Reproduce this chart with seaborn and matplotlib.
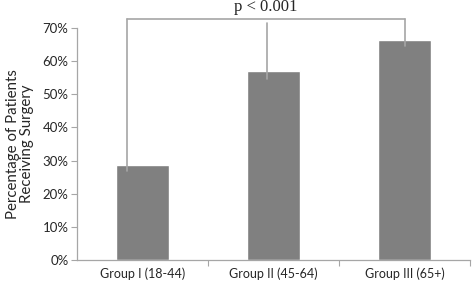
import seaborn as sns
import matplotlib.pyplot as plt
import matplotlib.ticker as mtick
import pandas as pd

groups = ["Group I (18-44)", "Group II (45-64)", "Group III (65+)"]
pct_surgery = [0.287, 0.570, 0.664]
p_text = "p < 0.001"

df = pd.DataFrame({"group": groups, "pct": pct_surgery})

sns.set_style("white")
plt.rcParams["font.family"] = ["Lato", "DejaVu Sans"]

fig = plt.figure(figsize=(4.72, 2.82), dpi=100)
ax = fig.add_axes([0.163, 0.078, 0.833, 0.823])

sns.barplot(data=df, x="group", y="pct", color="#808080", saturation=1,
            width=0.41, errorbar=None, ax=ax)

ax.set_ylim(0, 0.7)
ax.set_xlim(-0.5, 2.5)
ax.yaxis.set_major_locator(mtick.MultipleLocator(0.1))
ax.yaxis.set_major_formatter(mtick.PercentFormatter(1.0, decimals=0))
ax.set_xlabel("")
ax.set_ylabel("Percentage of Patients\nReceiving Surgery", fontsize=10.8,
              labelpad=6, linespacing=1.05)

# tick styling
ax.tick_params(axis="y", which="major", left=True, length=4, width=0.8,
               color="#a6a6a6", labelsize=9.5, pad=2)
ax.tick_params(axis="x", which="major", bottom=False, labelsize=9, pad=2)
ax.set_xticks([0.5, 1.5, 2.5], minor=True)
ax.tick_params(axis="x", which="minor", bottom=True, length=4, width=0.8,
               color="#a6a6a6")

sns.despine(ax=ax)
for side in ["left", "bottom"]:
    ax.spines[side].set_color("#a6a6a6")
    ax.spines[side].set_linewidth(0.9)

# significance bracket
line_kw = dict(color="#a6a6a6", lw=1.2, clip_on=False, zorder=3)
br_y = 0.726
x1, x2, x3 = -0.12, 0.95, 2.0
ax.plot([x1, x3], [br_y, br_y], **line_kw)
ax.plot([x1, x1], [br_y, pct_surgery[0] - 0.02], **line_kw)
ax.plot([x2, x2], [br_y - 0.012, pct_surgery[1] - 0.025], **line_kw)
ax.plot([x3, x3], [br_y, pct_surgery[2] - 0.02], **line_kw)
ax.text((x1 + x3) / 2, 0.75, p_text, ha="center", va="baseline",
        fontsize=12, family=["Liberation Serif", "DejaVu Serif"])

fig.savefig("out.png", dpi=100)
